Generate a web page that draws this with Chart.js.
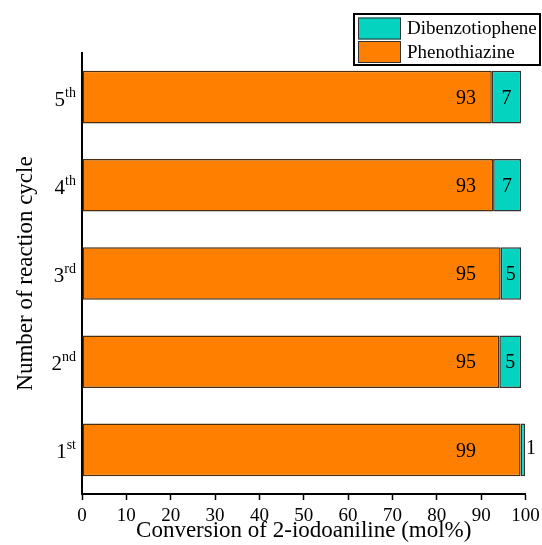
<!DOCTYPE html>
<html><head><meta charset="utf-8">
<script src="https://cdn.jsdelivr.net/npm/chart.js@4.4.0/dist/chart.umd.min.js"></script>
<style>html,body{margin:0;padding:0;background:#fff;} #wrap{width:542px;height:545px;}</style>
</head><body><div id="wrap"><canvas id="c" width="542" height="545"></canvas></div>
<script>
// ---- data ----
const cycleNumbers = ['1', '2', '3', '4', '5'];
const cycleSuffixes = ['st', 'nd', 'rd', 'th', 'th'];
const categories = cycleNumbers.map((n, i) => n + cycleSuffixes[i]);
const phenothiazine = [98.9, 94.1, 94.4, 92.7, 92.4];
const dibenzotiophene = [1.0, 4.9, 4.6, 6.3, 6.6];
const phenothiazineLabels = ['99', '95', '95', '93', '93'];
const dibenzotiopheneLabels = ['1', '5', '5', '7', '7'];
const xTickValues = [0, 10, 20, 30, 40, 50, 60, 70, 80, 90, 100];
const yTitle = 'Number of reaction cycle';
const xTitle = 'Conversion of 2-iodoaniline (mol%)';

const ORANGE = '#FF8000';
const TEAL = '#04D3BF';
const SERIF = '"Liberation Serif", "Times New Roman", serif';

Chart.defaults.color = '#000';
Chart.defaults.font.family = SERIF;

const labelPlugin = {
  id: 'custom',
  afterDatasetsDraw(chart) {
    const ctx = chart.ctx;
    const xs = chart.scales.x;
    const labelSets = [phenothiazineLabels, dibenzotiopheneLabels];
    ctx.save();
    ctx.fillStyle = '#000';
    ctx.font = '20px ' + SERIF;
    ctx.textBaseline = 'middle';
    chart.data.datasets.forEach((ds, di) => {
      const meta = chart.getDatasetMeta(di);
      meta.data.forEach((el, i) => {
        const p = el.getProps(['x', 'base', 'y'], true);
        const txt = labelSets[di][i];
        if (di === 0) {
          ctx.textAlign = 'center';
          ctx.fillText(txt, xs.getPixelForValue(86.6), p.y + 1.5);
        } else {
          const w = Math.abs(p.x - p.base);
          if (w < 10) {
            ctx.textAlign = 'left';
            ctx.fillText(txt, Math.max(p.x, p.base) + 1, p.y - 1);
          } else {
            ctx.textAlign = 'center';
            ctx.fillText(txt, (p.x + p.base) / 2, p.y + 1.5);
          }
        }
      });
    });
    ctx.restore();
  },
  afterDraw(chart) {
    const ctx = chart.ctx;
    const ys = chart.scales.y;
    const area = chart.chartArea;
    ctx.save();
    ctx.fillStyle = '#000';
    // y tick labels with superscripts
    const rightEdge = area.left - 6;
    cycleNumbers.forEach((n, i) => {
      const yc = ys.getPixelForValue(i);
      ctx.font = '14px ' + SERIF;
      const sw = ctx.measureText(cycleSuffixes[i]).width;
      ctx.font = '21px ' + SERIF;
      const nw = ctx.measureText(n).width;
      ctx.textAlign = 'left';
      ctx.textBaseline = 'alphabetic';
      const x0 = rightEdge - sw - nw;
      ctx.fillText(n, x0, yc + 8.5);
      ctx.font = '14px ' + SERIF;
      ctx.fillText(cycleSuffixes[i], x0 + nw, yc - 0.5);
    });
    // y title
    ctx.save();
    ctx.translate(32, (area.top + area.bottom) / 2);
    ctx.rotate(-Math.PI / 2);
    ctx.font = '23px ' + SERIF;
    ctx.textAlign = 'center';
    ctx.textBaseline = 'alphabetic';
    ctx.fillText(yTitle, 0, 0);
    ctx.restore();
    // legend (reverse order of datasets)
    const lx = 354, ly = 14, lw = 186, lh = 51;
    ctx.fillStyle = '#fff';
    ctx.fillRect(lx, ly, lw, lh);
    ctx.lineWidth = 2;
    ctx.strokeStyle = '#000';
    ctx.strokeRect(lx, ly, lw, lh);
    const order = chart.data.datasets.map((d, i) => i).reverse();
    order.forEach((di, k) => {
      const ds = chart.data.datasets[di];
      const sy = 17.5 + k * 23.5;
      ctx.fillStyle = ds.backgroundColor;
      ctx.fillRect(358, sy, 43, 22);
      ctx.lineWidth = 1;
      ctx.strokeStyle = '#333';
      ctx.strokeRect(358.5, sy + 0.5, 42, 21);
      ctx.fillStyle = '#000';
      ctx.font = '19px ' + SERIF;
      ctx.textAlign = 'left';
      ctx.textBaseline = 'middle';
      ctx.fillText(ds.label, 407, sy + 12);
    });
    ctx.restore();
  }
};

new Chart(document.getElementById('c'), {
  type: 'bar',
  data: {
    labels: categories,
    datasets: [
      { label: 'Phenothiazine', data: phenothiazine, backgroundColor: ORANGE,
        borderColor: '#4a2c10', borderWidth: 1.5, borderSkipped: false },
      { label: 'Dibenzotiophene', data: dibenzotiophene, backgroundColor: TEAL,
        borderColor: '#333333', borderWidth: 1.5, borderSkipped: false }
    ]
  },
  options: {
    responsive: false,
    animation: false,
    indexAxis: 'y',
    barPercentage: 0.596,
    categoryPercentage: 1.0,
    layout: { padding: { top: 53, right: 16.5, left: 0, bottom: 0 } },
    plugins: { legend: { display: false }, tooltip: { enabled: false } },
    scales: {
      x: {
        stacked: true,
        min: 0, max: 100,
        afterBuildTicks(s) { s.ticks = xTickValues.map(v => ({ value: v })); },
        afterFit(s) { s.height = 51; },
        ticks: { font: { size: 19, family: SERIF, lineHeight: 1.62 }, color: '#000', padding: 1, maxRotation: 0, autoSkip: false },
        grid: { display: true, drawOnChartArea: false, drawTicks: true, tickLength: 6, tickWidth: 1.5, color: '#000' },
        border: { display: true, color: '#000', width: 2 },
        title: { display: true, text: xTitle, font: { size: 23, family: SERIF }, color: '#000', padding: { top: 0, bottom: 0.5 } }
      },
      y: {
        stacked: true,
        reverse: true,
        afterFit(s) { s.width = 82; },
        ticks: { display: false },
        grid: { display: false },
        border: { display: true, color: '#000', width: 2 }
      }
    }
  },
  plugins: [labelPlugin]
});
</script>
</body></html>
